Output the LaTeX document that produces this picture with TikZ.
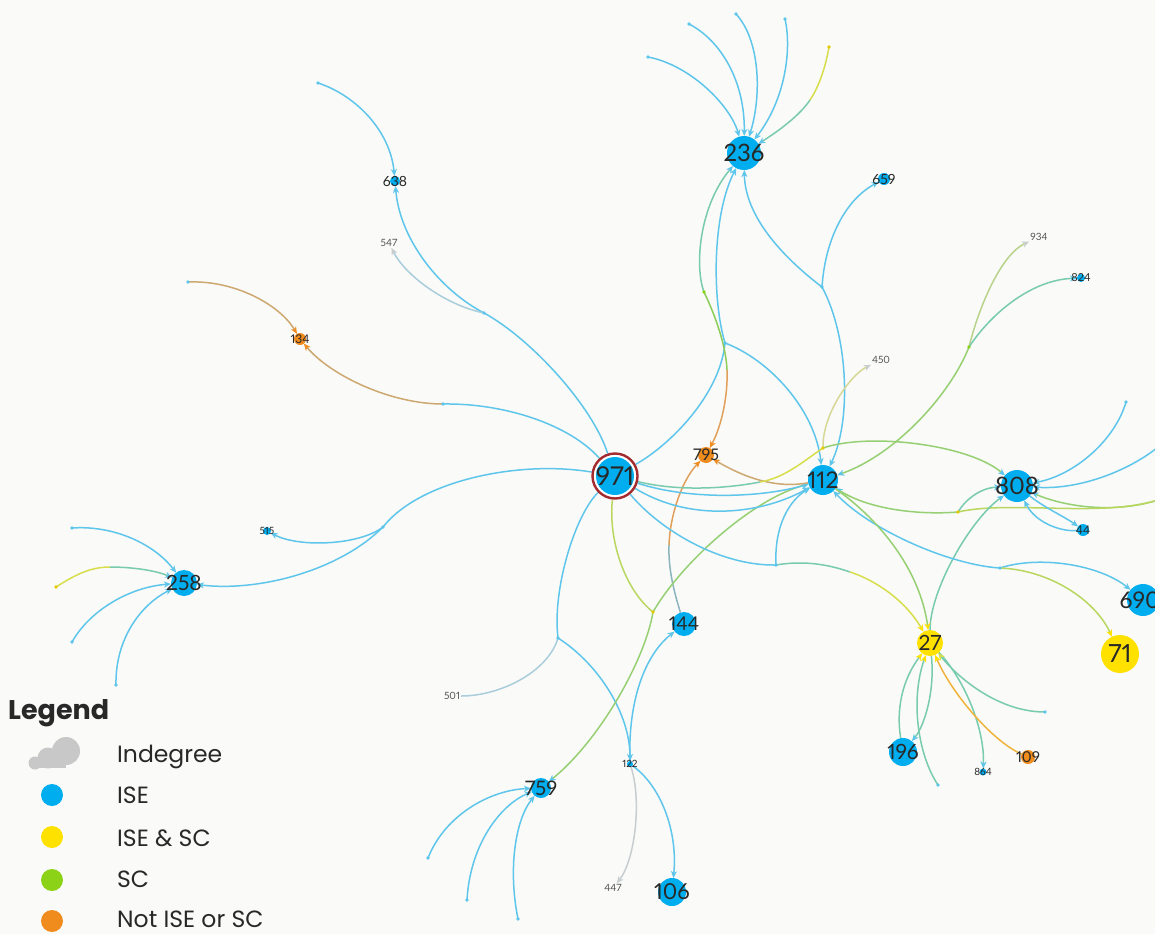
\documentclass[tikz,border=0pt]{standalone}
\usepackage{fontspec}
\setmainfont{Lato}[Numbers=Proportional]
\newfontfamily\legfont{Poppins}
\usetikzlibrary{arrows.meta}
\definecolor{bg}{RGB}{250,250,248}
\definecolor{eblue}{RGB}{95,198,235}
\definecolor{nblue}{RGB}{0,174,239}
\definecolor{nyellow}{RGB}{255,225,0}
\definecolor{norange}{RGB}{240,140,30}
\definecolor{ngreen}{RGB}{140,211,23}
\definecolor{ringred}{RGB}{163,42,46}
\definecolor{txt}{RGB}{40,40,40}
\definecolor{ltxt}{RGB}{85,85,85}
\definecolor{cGY}{RGB}{185,215,95}
\definecolor{cYG}{RGB}{215,222,75}
\definecolor{cG}{RGB}{150,208,115}
\definecolor{cGB}{RGB}{120,203,175}
\definecolor{cTan}{RGB}{205,168,112}
\definecolor{cOr}{RGB}{225,160,90}
\definecolor{cGr}{RGB}{200,205,208}
\definecolor{cBGr}{RGB}{170,205,220}
\definecolor{cYGr}{RGB}{215,215,150}
\definecolor{cGGr}{RGB}{185,210,140}
\definecolor{cGrn}{RGB}{140,205,90}
\definecolor{cOrY}{RGB}{240,180,60}
\definecolor{cBO}{RGB}{140,180,190}
\definecolor{cloud}{RGB}{200,200,200}
\newcommand{\fsz}[1]{\fontsize{#1}{#1}\selectfont}
\pgfdeclarelayer{bglayer}
\pgfdeclarelayer{edges}
\pgfsetlayers{bglayer,edges,main}
\begin{document}
\begin{tikzpicture}[x=1pt,y=-1pt,
  nd/.style={circle, fill=#1, inner sep=0pt, outer sep=0pt},
  lab/.style={text=txt, inner sep=0pt},
  glab/.style={text=ltxt, inner sep=1pt, font=\fsz{10}},
  ed/.style={line width=1.5pt, draw=#1}, ed/.default=eblue,
  tip/.style={-{Stealth[length=7pt,width=6pt,inset=2pt,color=#1]}}, tip/.default=eblue,
  legtext/.style={anchor=base west, text=txt, inner sep=0pt, font=\legfont\fsz{23.5}}]
\begin{pgfonlayer}{bglayer}
\fill[bg] (0,0) rectangle (1155,934);
\end{pgfonlayer}
\useasboundingbox (0,0) rectangle (1155,934);

% ---------- nodes ----------
\node[circle, minimum size=45pt, inner sep=0pt, fill=white, draw=ringred, line width=2.4pt] (n971) at (615,476) {};
\fill[nblue] (n971.center) circle[radius=19pt];
\node[nd=nblue, minimum size=34pt] (n236) at (744,153) {};
\node[nd=nblue, minimum size=10pt] (n638) at (395,181) {};
\node[glab] (n547) at (389,243) {547};
\node[nd=norange, minimum size=12pt] (n134) at (300,339) {};
\node[nd=nblue, minimum size=12pt] (n659) at (884,179) {};
\node[glab] (n934) at (1039,237) {934};
\node[nd=nblue, minimum size=8pt] (n824) at (1081,278) {};
\node[glab] (n450) at (881,360) {450};
\node[nd=norange, minimum size=16pt] (n795) at (706,455) {};
\node[nd=nblue, minimum size=30pt] (n112) at (823,480) {};
\node[nd=nblue, minimum size=32pt] (n808) at (1017,486) {};
\node[nd=nblue, minimum size=12pt] (n44) at (1083,530) {};
\node[nd=nblue, minimum size=8pt] (n515) at (267,531) {};
\node[nd=nblue, minimum size=26pt] (n258) at (184,583) {};
\node[nd=nblue, minimum size=24pt] (n144) at (684,624) {};
\node[nd=nyellow, minimum size=26pt] (n27) at (930,643) {};
\node[nd=nblue, minimum size=32pt] (n690) at (1143,600) {};
\node[nd=nyellow, minimum size=38pt] (n71) at (1120,654) {};
\node[glab] (n501) at (452,696) {501};
\node[nd=nblue, minimum size=28pt] (n196) at (903,752) {};
\node[nd=nblue, minimum size=7pt] (n864) at (983,772) {};
\node[nd=norange, minimum size=14pt] (n109) at (1028,757) {};
\node[nd=nblue, minimum size=6pt] (n122) at (630,764) {};
\node[nd=nblue, minimum size=20pt] (n759) at (541,788) {};
\node[glab] (n447) at (613,888) {447};
\node[nd=nblue, minimum size=28pt] (n106) at (672,892) {};

% labels
\node[lab, font=\fsz{26}] (t971) at (n971.center) {971};
\node[lab, font=\fsz{24}] (t236) at (n236.center) {236};
\node[lab, font=\fsz{14}] (t638) at (n638.center) {638};
\node[lab, font=\fsz{12}] (t134) at (n134.center) {134};
\node[lab, font=\fsz{14}] (t659) at (n659.center) {659};
\node[lab, font=\fsz{11}] (t824) at (n824.center) {824};
\node[lab, font=\fsz{16}] (t795) at (n795.center) {795};
\node[lab, font=\fsz{23}] (t112) at (n112.center) {112};
\node[lab, font=\fsz{24}] (t808) at (n808.center) {808};
\node[lab, font=\fsz{12}] (t44) at (n44.center) {44};
\node[lab, font=\fsz{10}] (t515) at (n515.center) {515};
\node[lab, font=\fsz{21}] (t258) at (n258.center) {258};
\node[lab, font=\fsz{19}] (t144) at (n144.center) {144};
\node[lab, font=\fsz{21}] (t27) at (n27.center) {27};
\node[lab, font=\fsz{23}] (t690) at (1140,600) {690};
\node[lab, font=\fsz{25}] (t71) at (n71.center) {71};
\node[lab, font=\fsz{21}] (t196) at (n196.center) {196};
\node[lab, font=\fsz{10}] (t864) at (n864.center) {864};
\node[lab, font=\fsz{15}] (t109) at (n109.center) {109};
\node[lab, font=\fsz{10}] (t122) at (n122.center) {122};
\node[lab, font=\fsz{20}] (t759) at (n759.center) {759};
\node[lab, font=\fsz{22}] (t106) at (n106.center) {106};

% ---------- branch points and free ends ----------
\coordinate (bA) at (484,313);
\coordinate (bB) at (443,404);
\coordinate (bC) at (383,527);
\coordinate (bD) at (558,638);
\coordinate (bE) at (653,612);
\coordinate (bF) at (776,565);
\coordinate (bG) at (725,343);
\coordinate (bH) at (822,287);
\coordinate (bI) at (823,448);
\coordinate (bJ) at (969,347);
\coordinate (bK) at (958,512);
\coordinate (bL) at (1000,568);
\coordinate (gdot) at (704,292);
\coordinate (m5) at (810,100);
\coordinate (m9) at (110,567);
\coordinate (m14) at (669,545);
\coordinate (mF) at (850,572);
\coordinate (mG) at (727,370);
\coordinate (mI) at (760,482);
\coordinate (e1) at (648,57);
\coordinate (e2) at (689,24);
\coordinate (e3) at (736,14);
\coordinate (e4) at (785,19);
\coordinate (e5) at (829,47);
\coordinate (e6) at (318,83);
\coordinate (e7) at (188,282);
\coordinate (e8) at (72,528);
\coordinate (e9) at (56,587);
\coordinate (e10) at (72,642);
\coordinate (e11) at (116,685);
\coordinate (e12) at (428,858);
\coordinate (e13) at (467,900);
\coordinate (e14) at (518,919);
\coordinate (e15) at (1126,402);
\coordinate (e16) at (1158,447);
\coordinate (e17) at (1158,500);
\coordinate (e18) at (938,785);
\coordinate (e19) at (1045,712);

% ---------- edges ----------
\begin{pgfonlayer}{edges}
% into 236 from above
\draw[ed,tip] (e1) .. controls (690,65) and (730,105) .. (n236);
\draw[ed,tip] (e2) .. controls (720,40) and (745,80) .. (n236);
\draw[ed,tip] (e3) .. controls (760,40) and (762,95) .. (n236);
\draw[ed,tip] (e4) .. controls (792,50) and (785,100) .. (n236);
\draw[ed=cYG] (e5) .. controls (825,70) and (818,88) .. (m5);
\draw[ed=cGB,tip] (m5) .. controls (800,115) and (780,130) .. (n236);
% 638 / 547
\draw[ed,tip] (e6) .. controls (355,95) and (390,130) .. (n638);
\draw[ed] (n971) .. controls (592,405) and (530,338) .. (bA);
\draw[ed,tip] (bA) .. controls (440,290) and (400,240) .. (n638);
\draw[ed=cBGr,tip=cGr] (bA) .. controls (445,305) and (405,275) .. (n547);
% 134
\draw[ed=cTan,tip=norange] (e7) .. controls (235,280) and (280,305) .. (n134);
\draw[ed] (n971) .. controls (570,425) and (505,403) .. (bB);
\draw[ed=cTan,tip=norange] (bB) .. controls (390,404) and (330,375) .. (n134);
% 258 / 515
\draw[ed] (n971) .. controls (520,460) and (420,480) .. (bC);
\draw[ed,tip] (bC) .. controls (360,545) and (300,548) .. (n515);
\draw[ed,tip] (bC) .. controls (340,570) and (260,592) .. (n258);
\draw[ed,tip] (e8) .. controls (115,525) and (155,545) .. (n258);
\draw[ed=cYG] (e9) .. controls (75,575) and (90,567) .. (m9);
\draw[ed=cGB,tip] (m9) .. controls (130,567) and (155,570) .. (n258);
\draw[ed,tip] (e10) .. controls (90,610) and (130,587) .. (n258);
\draw[ed,tip] (e11) .. controls (115,640) and (140,605) .. (n258);
% 501 / 122 / 447 / 106 / 144
\draw[ed] (n971) .. controls (575,515) and (552,590) .. (bD);
\draw[ed=cBGr] (bD) .. controls (548,672) and (500,696) .. (n501);
\draw[ed,tip] (bD) .. controls (600,665) and (630,715) .. (n122);
\draw[ed,tip] (n122) .. controls (628,700) and (645,655) .. (n144);
\draw[ed=cGr,tip=cGr] (n122) .. controls (642,800) and (635,860) .. (n447);
\draw[ed,tip] (n122) .. controls (660,785) and (678,830) .. (n106);
\draw[ed=cBO] (n144) .. controls (675,595) and (668,570) .. (m14);
\draw[ed=cOr,tip=norange] (m14) .. controls (670,515) and (682,480) .. (n795);
% yellow bundle to 759
\draw[ed=cGY] (n971) .. controls (608,540) and (625,590) .. (bE);
\draw[ed=cG,tip] (bE) .. controls (680,565) and (750,500) .. (n112);
\draw[ed=cG,tip] (bE) .. controls (645,660) and (600,740) .. (n759);
% 971 -> 112 / 27
\draw[ed] (n971) .. controls (660,530) and (720,566) .. (bF);
\draw[ed,tip] (bF) .. controls (774,525) and (790,500) .. (n112);
\draw[ed=cGB] (bF) .. controls (805,560) and (830,565) .. (mF);
\draw[ed=cYG,tip=nyellow] (mF) .. controls (875,580) and (905,600) .. (n27);
\draw[ed,tip] (n971) .. controls (690,500) and (760,498) .. (n112);
\draw[ed,tip] (n971) .. controls (690,522) and (760,515) .. (n112);
\draw[ed=cTan,tip=norange] (n112) .. controls (770,490) and (735,472) .. (n795);
% up to 236
\draw[ed] (n971) .. controls (670,445) and (720,395) .. (bG);
\draw[ed,tip] (bG) .. controls (712,300) and (712,215) .. (n236);
\draw[ed,tip] (bG) .. controls (770,360) and (815,410) .. (n112);
\draw[ed=cGB,tip] (gdot) .. controls (694,265) and (700,205) .. (n236);
\draw[ed=cGrn] (gdot) .. controls (715,315) and (726,345) .. (mG);
\draw[ed=cOr,tip=norange] (mG) .. controls (728,395) and (722,425) .. (n795);
\draw[ed,tip] (bH) .. controls (780,255) and (745,215) .. (n236);
\draw[ed,tip] (bH) .. controls (825,240) and (845,200) .. (n659);
\draw[ed,tip] (bH) .. controls (848,335) and (852,420) .. (n112);
% 971 -> 808 / 450
\draw[ed=cGB] (n971) .. controls (680,492) and (730,488) .. (mI);
\draw[ed=cYG] (mI) .. controls (785,478) and (805,460) .. (bI);
\draw[ed=cG,tip] (bI) .. controls (870,432) and (970,445) .. (n808);
\draw[ed=cYGr,tip=cGr] (bI) .. controls (822,415) and (850,375) .. (n450);
% green bundle 934 / 824
\draw[ed=cGGr,tip=cGr] (bJ) .. controls (978,310) and (1000,255) .. (n934);
\draw[ed=cGB,tip] (bJ) .. controls (990,315) and (1030,280) .. (n824);
\draw[ed=cG,tip] (bJ) .. controls (950,395) and (895,455) .. (n112);
% under 808
\draw[ed=cG,tip] (e17) .. controls (1110,515) and (1060,505) .. (n808);
\draw[ed=cGY] (e17) .. controls (1100,518) and (1010,500) .. (bK);
\draw[ed=cGB,tip] (bK) .. controls (965,500) and (980,488) .. (n808);
\draw[ed=cG,tip] (bK) .. controls (920,515) and (870,510) .. (n112);
% 808 others
\draw[ed,tip] (e15) .. controls (1115,440) and (1075,475) .. (n808);
\draw[ed,tip] (e16) .. controls (1130,470) and (1080,490) .. (n808);
\draw[ed,tip] (n808) .. controls (1045,508) and (1065,517) .. (n44);
\draw[ed,tip] (n44) .. controls (1060,532) and (1035,522) .. (n808);
\draw[ed=cGB,tip] (n27) .. controls (930,590) and (970,520) .. (n808);
% 690 / 71
\draw[ed,tip] (bL) .. controls (950,565) and (870,530) .. (n112);
\draw[ed,tip] (bL) .. controls (1040,555) and (1100,565) .. (n690);
\draw[ed=cGY,tip=nyellow] (bL) .. controls (1050,570) and (1095,600) .. (n71);
\draw[ed=cG,tip=nyellow] (n112) .. controls (880,520) and (920,570) .. (n27);
% around 27
\draw[ed=cGB,tip=nyellow] (n196) .. controls (896,710) and (902,680) .. (n27);
\draw[ed=cGB,tip] (n27) .. controls (935,690) and (925,725) .. (n196);
\draw[ed=cGB,tip=nyellow] (e18) .. controls (918,755) and (910,700) .. (n27);
\draw[ed=cGB,tip] (n27) .. controls (965,680) and (985,730) .. (n864);
\draw[ed=cOrY,tip=nyellow] (n109) .. controls (990,740) and (950,690) .. (n27);
\draw[ed=cGB,tip=cYG] (e19) .. controls (1000,712) and (960,680) .. (n27);
% into 759
\draw[ed,tip] (e12) .. controls (445,815) and (490,790) .. (n759);
\draw[ed,tip] (e13) .. controls (470,845) and (500,805) .. (n759);
\draw[ed,tip] (e14) .. controls (508,870) and (515,820) .. (n759);
% dots
\foreach \p in {e1,e2,e3,e4,e6,e7,e8,e10,e11,e12,e13,e14,e15,e18,e19,bA,bB,bC,bD,bF,bG,bH,bL}
  \fill[eblue] (\p) circle[radius=1.8pt];
\foreach \p in {e5,e9,bE,bI,bK}
  \fill[nyellow!90!black] (\p) circle[radius=1.8pt];
\foreach \p in {bJ,gdot}
  \fill[ngreen] (\p) circle[radius=1.8pt];
\end{pgfonlayer}

% ---------- legend ----------
\node[anchor=base west, text=txt, inner sep=0pt, font=\legfont\bfseries\fsz{27}] (legtitle) at (8,719) {Legend};
\fill[cloud] (66,751) circle[radius=14pt];
\fill[cloud] (48,758) circle[radius=10.5pt];
\fill[cloud] (35,763) circle[radius=6.5pt];
\fill[cloud] (35,760) rectangle (66,768);
\node[legtext] (legind) at (117,762) {Indegree};
\node[nd=nblue, minimum size=22pt] (legc1) at (52,795) {};
\node[legtext] (legise) at (117,803) {ISE};
\node[nd=nyellow, minimum size=22pt] (legc2) at (52,837) {};
\node[legtext] (legisesc) at (117,846) {ISE \& SC};
\node[nd=ngreen, minimum size=22pt] (legc3) at (52,880) {};
\node[legtext] (legsc) at (117,887) {SC};
\node[nd=norange, minimum size=22pt] (legc4) at (52,921) {};
\node[legtext] (legnot) at (117,927) {Not ISE or SC};
\end{tikzpicture}
\end{document}
